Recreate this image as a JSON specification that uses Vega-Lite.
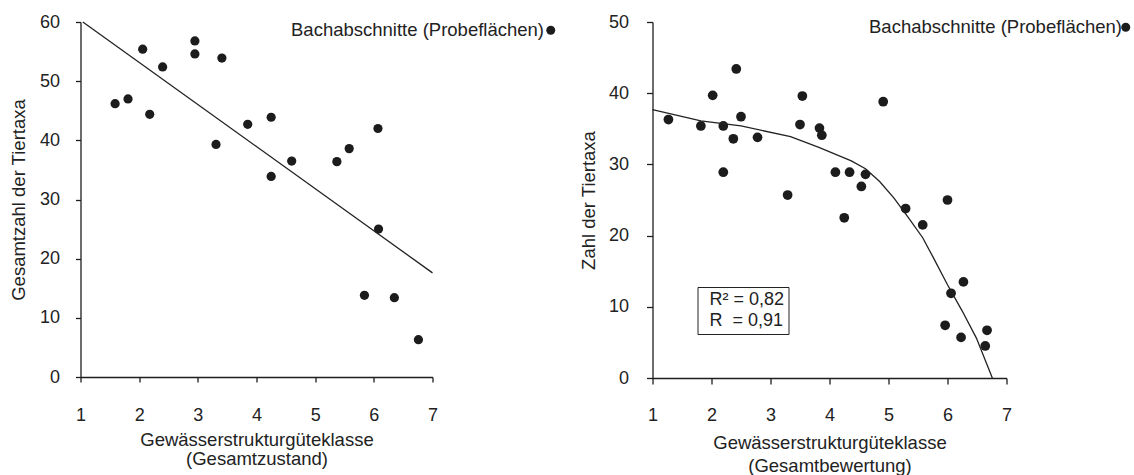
{
  "$schema": "https://vega.github.io/schema/vega-lite/v6.json",
  "autosize": {"type": "pad"},
  "padding": {"left": 9.5, "top": 13, "right": 5, "bottom": 5},
  "background": "white",
  "config": {
    "font": "Liberation Sans",
    "view": {"stroke": null},
    "axis": {
      "domain": true, "ticks": true, "zindex": 1,
      "domainColor": "#1e1e1e", "domainWidth": 1.3, "tickColor": "#1e1e1e", "tickWidth": 1.3,
      "labelColor": "#222", "titleColor": "#222", "labelFontSize": 18, "titleFontSize": 18.5,
      "titleFontWeight": "normal", "grid": false, "labelFont": "Liberation Sans", "titleFont": "Liberation Sans",
      "labelFlush": false, "labelOverlap": false
    },
    "legend": {"labelFont": "Liberation Sans", "labelColor": "#222", "labelLimit": 500}
  },
  "datasets": {
    "left_points": [
      {"klasse": 1.59, "taxa": 46.2}, {"klasse": 1.81, "taxa": 47.0}, {"klasse": 2.06, "taxa": 55.4},
      {"klasse": 2.18, "taxa": 44.4}, {"klasse": 2.40, "taxa": 52.4}, {"klasse": 2.95, "taxa": 56.8},
      {"klasse": 2.95, "taxa": 54.6}, {"klasse": 3.41, "taxa": 53.9}, {"klasse": 3.31, "taxa": 39.3},
      {"klasse": 3.85, "taxa": 42.7}, {"klasse": 4.25, "taxa": 43.9}, {"klasse": 4.25, "taxa": 33.9},
      {"klasse": 4.60, "taxa": 36.5}, {"klasse": 5.37, "taxa": 36.4}, {"klasse": 5.58, "taxa": 38.6},
      {"klasse": 6.07, "taxa": 42.0}, {"klasse": 6.08, "taxa": 25.0}, {"klasse": 5.84, "taxa": 13.8},
      {"klasse": 6.35, "taxa": 13.4}, {"klasse": 6.76, "taxa": 6.3}
    ],
    "left_fit": [
      {"klasse": 1.04, "taxa": 60.0}, {"klasse": 7.0, "taxa": 17.6}
    ],
    "right_points": [
      {"klasse": 1.27, "taxa": 36.3}, {"klasse": 1.82, "taxa": 35.4}, {"klasse": 2.02, "taxa": 39.7},
      {"klasse": 2.20, "taxa": 35.4}, {"klasse": 2.37, "taxa": 33.6}, {"klasse": 2.20, "taxa": 28.9},
      {"klasse": 2.42, "taxa": 43.4}, {"klasse": 2.50, "taxa": 36.7}, {"klasse": 2.78, "taxa": 33.8},
      {"klasse": 3.29, "taxa": 25.7}, {"klasse": 3.50, "taxa": 35.6}, {"klasse": 3.54, "taxa": 39.6},
      {"klasse": 3.83, "taxa": 35.1}, {"klasse": 3.87, "taxa": 34.1}, {"klasse": 4.10, "taxa": 28.9},
      {"klasse": 4.34, "taxa": 28.9}, {"klasse": 4.25, "taxa": 22.5}, {"klasse": 4.54, "taxa": 26.9},
      {"klasse": 4.61, "taxa": 28.6}, {"klasse": 4.91, "taxa": 38.8}, {"klasse": 5.29, "taxa": 23.8},
      {"klasse": 5.58, "taxa": 21.5}, {"klasse": 6.00, "taxa": 25.0}, {"klasse": 6.27, "taxa": 13.5},
      {"klasse": 6.06, "taxa": 11.9}, {"klasse": 5.96, "taxa": 7.4}, {"klasse": 6.23, "taxa": 5.7},
      {"klasse": 6.64, "taxa": 4.5}, {"klasse": 6.67, "taxa": 6.7}
    ],
    "right_fit": [
      {"klasse": 1.0, "taxa": 37.7}, {"klasse": 1.82, "taxa": 36.1}, {"klasse": 2.5, "taxa": 35.4},
      {"klasse": 3.34, "taxa": 33.9}, {"klasse": 3.82, "taxa": 32.4}, {"klasse": 4.37, "taxa": 30.5},
      {"klasse": 4.61, "taxa": 29.4}, {"klasse": 4.85, "taxa": 27.6}, {"klasse": 5.09, "taxa": 25.3},
      {"klasse": 5.34, "taxa": 22.5}, {"klasse": 5.58, "taxa": 19.7}, {"klasse": 5.76, "taxa": 16.9},
      {"klasse": 6.0, "taxa": 13.1}, {"klasse": 6.25, "taxa": 9.4}, {"klasse": 6.49, "taxa": 5.6},
      {"klasse": 6.76, "taxa": 0.0}
    ],
    "stats": [
      {"kennwert": "R² = 0,82"}, {"kennwert": "R\u00a0\u00a0= 0,91"}
    ]
  },
  "bounds": "flush",
  "spacing": 220,
  "resolve": {
    "scale": {"color": "independent", "shape": "independent"},
    "legend": {"color": "independent", "shape": "independent"}
  },
  "hconcat": [
    {
      "width": 352,
      "height": 355,
      "layer": [
        {
          "data": {"name": "left_points"},
          "transform": [{"calculate": "'Bachabschnitte (Probeflächen)'", "as": "serie"}],
          "mark": {"type": "point", "filled": true, "size": 85, "opacity": 1},
          "encoding": {
            "x": {
              "field": "klasse", "type": "quantitative",
              "scale": {"domain": [1, 7], "nice": false, "zero": false},
              "axis": {
                "values": [1, 2, 3, 4, 5, 6, 7], "format": "d", "tickSize": 5, "labelPadding": 24,
                "title": ["Gewässerstrukturgüteklasse", "(Gesamtzustand)"],
                "titlePadding": 6, "titleLineHeight": 19.5
              }
            },
            "y": {
              "field": "taxa", "type": "quantitative",
              "scale": {"domain": [0, 60], "nice": false},
              "axis": {
                "values": [0, 10, 20, 30, 40, 50, 60], "format": "d", "tickSize": 5, "labelPadding": 16,
                "title": "Gesamtzahl der Tiertaxa", "titlePadding": 10.5
              }
            },
            "color": {
              "field": "serie", "type": "nominal",
              "scale": {"range": ["#1c1c1c"]},
              "legend": {
                "title": null, "orient": "none", "legendX": 461, "legendY": -1,
                "labelAlign": "right", "labelOffset": -16, "labelFontSize": 18.5,
                "symbolSize": 80, "symbolType": "circle", "symbolFillColor": "#1c1c1c",
                "symbolStrokeWidth": 0, "padding": 0
              }
            }
          }
        },
        {
          "data": {"name": "left_fit"},
          "mark": {"type": "line", "color": "#222", "strokeWidth": 1.3},
          "encoding": {
            "x": {"field": "klasse", "type": "quantitative"},
            "y": {"field": "taxa", "type": "quantitative"}
          }
        }
      ]
    },
    {
      "width": 354,
      "height": 356,
      "layer": [
        {
          "data": {"name": "right_points"},
          "transform": [{"calculate": "'Bachabschnitte (Probeflächen)'", "as": "serie"}],
          "mark": {"type": "point", "filled": true, "size": 95, "opacity": 1},
          "encoding": {
            "x": {
              "field": "klasse", "type": "quantitative",
              "scale": {"domain": [1, 7], "nice": false, "zero": false},
              "axis": {
                "values": [1, 1.5, 2, 2.5, 3, 3.5, 4, 4.5, 5, 5.5, 6, 6.5, 7],
                "labelExpr": "datum.value % 1 === 0 ? format(datum.value, 'd') : ''",
                "tickSize": {"condition": {"test": "datum.value % 1 === 0", "value": 6}, "value": 4},
                "labelPadding": 22,
                "title": ["Gewässerstrukturgüteklasse", "(Gesamtbewertung)"],
                "titlePadding": 9, "titleLineHeight": 23
              }
            },
            "y": {
              "field": "taxa", "type": "quantitative",
              "scale": {"domain": [0, 50], "nice": false},
              "axis": {
                "values": [0, 5, 10, 15, 20, 25, 30, 35, 40, 45, 50],
                "labelExpr": "datum.value % 10 === 0 ? format(datum.value, 'd') : ''",
                "tickSize": {"condition": {"test": "datum.value % 10 === 0", "value": 6}, "value": 3},
                "labelPadding": 18,
                "title": "Zahl der Tiertaxa", "titlePadding": 9.5
              }
            },
            "color": {
              "field": "serie", "type": "nominal",
              "scale": {"range": ["#1c1c1c"]},
              "legend": {
                "title": null, "orient": "none", "legendX": 464, "legendY": -4,
                "labelAlign": "right", "labelOffset": -13, "labelFontSize": 18.5,
                "symbolSize": 80, "symbolType": "circle", "symbolFillColor": "#1c1c1c",
                "symbolStrokeWidth": 0, "padding": 0
              }
            }
          }
        },
        {
          "data": {"name": "right_fit"},
          "mark": {"type": "line", "color": "#222", "strokeWidth": 1.3},
          "encoding": {
            "x": {"field": "klasse", "type": "quantitative"},
            "y": {"field": "taxa", "type": "quantitative"}
          }
        },
        {
          "data": {"name": "stats"},
          "mark": {"type": "point", "opacity": 0},
          "encoding": {
            "shape": {
              "field": "kennwert", "type": "nominal",
              "scale": {"domain": ["R² = 0,82", "R\u00a0\u00a0= 0,91"]},
              "legend": {
                "title": null, "orient": "none", "legendX": 45, "legendY": 265,
                "strokeColor": "#222", "padding": 4, "labelFontSize": 18,
                "symbolSize": 0, "symbolOpacity": 0, "symbolStrokeWidth": 0,
                "labelOffset": -10, "rowPadding": 3
              }
            }
          }
        }
      ]
    }
  ]
}
